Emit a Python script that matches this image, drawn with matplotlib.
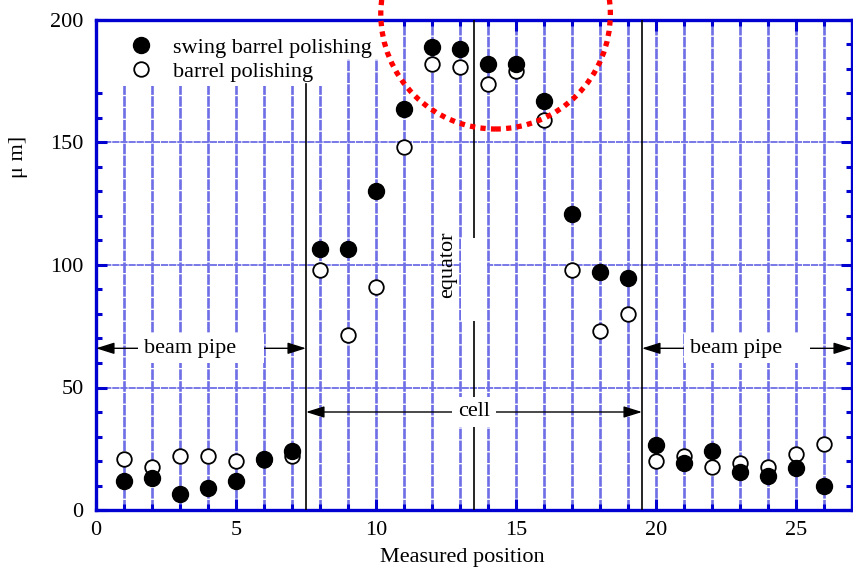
import matplotlib.pyplot as plt
import matplotlib.patches as patches
from matplotlib.ticker import MultipleLocator

plt.rcParams['font.family'] = ['Liberation Serif', 'DejaVu Serif']
plt.rcParams['font.size'] = 16

# measured positions and thickness removed [um]
position = list(range(1, 27))
swing = [12, 13, 6.5, 9, 12, 21, 24, 106.5, 106.5, 130, 163.5, 189, 188, 182,
         182, 167, 121, 97, 94.5, 26.5, 19, 24, 15.5, 14, 17, 10]
barrel = [21, 17.5, 22, 22, 20, 20.5, 22, 98, 71.5, 91, 148, 182, 181, 174,
          179, 159, 98, 73, 80, 20, 22, 17.5, 19, 17.5, 23, 27]

# region boundaries along the cavity
cell_edges = [7.5, 19.5]
equator_x = 13.5

blue = '#0000d0'
grid_blue = '#6e6ee6'

fig = plt.figure(figsize=(8.54, 5.73), dpi=100)
ax = fig.add_axes([96 / 854, 63 / 573, 756 / 854, 490 / 573])

ax.set_xlim(0, 27)
ax.set_ylim(0, 200)

# grid
for gx in range(1, 27):
    ax.plot([gx, gx], [0, 200], color=grid_blue, lw=1.9, ls=(0, (4, 0.5)), zorder=1)
for gy in [50, 100, 150]:
    ax.plot([0, 27], [gy, gy], color=grid_blue, lw=1.3, ls=(0, (4, 0.5)), zorder=1)

# white backgrounds behind the legend and the equator label
ax.add_patch(patches.Rectangle((0, 173), 8.6, 27, facecolor='white', edgecolor='none', zorder=2))
ax.add_patch(patches.Rectangle((8.6, 184), 1.5, 16, facecolor='white', edgecolor='none', zorder=2))
ax.add_patch(patches.Rectangle((13.05, 77), 0.93, 34, facecolor='white', edgecolor='none', zorder=3.5))

# cell boundaries and equator
ax.plot([cell_edges[0], cell_edges[0]], [0, 174], color='black', lw=1.2, zorder=3)
ax.plot([cell_edges[1], cell_edges[1]], [0, 200], color='black', lw=1.2, zorder=3)
ax.plot([equator_x, equator_x], [0, 200], color='black', lw=1.2, zorder=3)
ax.text(12.55, 100, 'equator', rotation=90, ha='center', va='center', zorder=4)

# region arrows
arrow_kw = dict(arrowstyle='<|-|>,head_length=0.7,head_width=0.22', color='black',
                lw=1.0, shrinkA=0, shrinkB=0)
box_kw = dict(boxstyle='square,pad=0.25', facecolor='white', edgecolor='none')
ax.annotate('', xy=(0, 66), xytext=(cell_edges[0], 66), arrowprops=arrow_kw, zorder=4)
ax.text(3.75, 66, 'beam pipe    ', ha='center', va='center', bbox=box_kw, zorder=5)
ax.annotate('', xy=(cell_edges[1], 66), xytext=(27, 66), arrowprops=arrow_kw, zorder=4)
ax.text(23.25, 66, 'beam pipe    ', ha='center', va='center', bbox=box_kw, zorder=5)
ax.annotate('', xy=(cell_edges[0], 40), xytext=(cell_edges[1], 40), arrowprops=arrow_kw, zorder=4)
ax.text(equator_x, 40, 'cell', ha='center', va='center', bbox=box_kw, zorder=5)

# data
ax.plot(position, barrel, 'o', ls='none', markersize=10.5, markerfacecolor='white',
        markeredgecolor='black', markeredgewidth=1.3, label='barrel polishing', zorder=6)
ax.plot(position, swing, 'o', ls='none', markersize=11.5, color='black',
        label='swing barrel polishing', zorder=7)

handles, labels = ax.get_legend_handles_labels()
ax.legend(handles[::-1], labels[::-1], loc='upper left', bbox_to_anchor=(0.016, 1.006),
          frameon=False, handletextpad=0.8, labelspacing=0.15, handlelength=1.2)

# red dotted ring around the equator region
ax.add_patch(patches.Ellipse((14.27, 202.5), 8.2, 94, fill=False, edgecolor='#ff0000',
                             lw=3.8, ls=(0, (1, 1)), capstyle='butt', clip_on=False, zorder=8))

# axes styling
for sp in ax.spines.values():
    sp.set_color(blue)
    sp.set_linewidth(2.4)
ax.xaxis.set_major_locator(MultipleLocator(5))
ax.xaxis.set_minor_locator(MultipleLocator(1))
ax.yaxis.set_major_locator(MultipleLocator(50))
ax.yaxis.set_minor_locator(MultipleLocator(10))
ax.tick_params(which='both', direction='in', top=True, right=True, color=blue, width=2.2)
ax.tick_params(which='major', length=8)
ax.tick_params(which='minor', length=4)
ax.tick_params(axis='x', pad=8)
ax.tick_params(axis='y', pad=9)

ax.set_xlabel('Measured position')
ax.xaxis.set_label_coords(0.484, -0.078)
ax.set_ylabel('μ m]')
ax.yaxis.set_label_coords(-0.09, 0.72)

fig.savefig('out.png', dpi=100)
